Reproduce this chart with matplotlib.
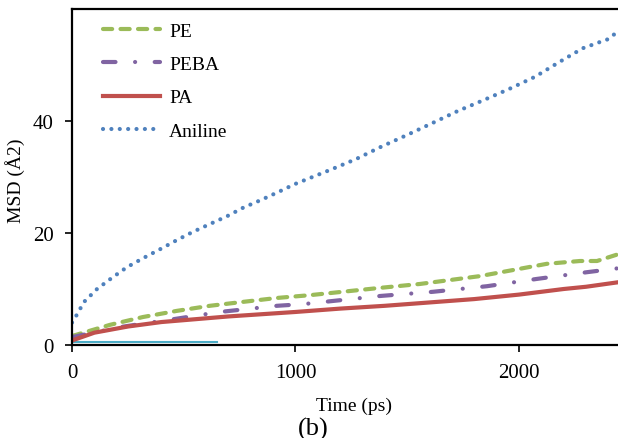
import matplotlib
matplotlib.use('Agg')
import matplotlib.pyplot as plt

plt.rcParams['font.family'] = ['Liberation Serif', 'DejaVu Serif']

# Time (ps) and MSD (A^2)
t_aniline = [0, 13, 54, 112, 179, 246, 318, 394, 470, 541, 617, 694, 765, 846, 922, 998,
             1154, 1271, 1383, 1499, 1611, 1727, 1843, 1955, 2072, 2179, 2286, 2362, 2398, 2443]
msd_aniline = [4.0, 4.8, 7.7, 10.0, 12.0, 13.9, 15.5, 17.1, 18.75, 20.2, 21.6, 23.0, 24.5, 25.9, 27.3, 28.75,
               31.25, 33.2, 35.4, 37.5, 39.6, 41.8, 43.75, 45.7, 47.9, 50.5, 53.0, 54.1, 54.6, 56.0]

t_pe = [0, 170, 318, 470, 617, 765, 917, 1065, 1378, 1557, 1825, 2125, 2273, 2349, 2443]
msd_pe = [1.6, 3.6, 5.0, 6.1, 7.0, 7.7, 8.4, 8.9, 10.2, 10.9, 12.3, 14.5, 15.0, 15.0, 16.2]

t_peba = [0, 215, 452, 662, 917, 1034, 1378, 1615, 1857, 2080, 2304, 2443]
msd_peba = [1.4, 3.2, 4.6, 5.9, 7.0, 7.3, 8.75, 9.5, 10.5, 11.8, 13.0, 13.7]

t_pa = [0, 100, 250, 400, 550, 700, 850, 1000, 1200, 1400, 1600, 1800, 2000, 2200, 2300, 2443]
msd_pa = [0.8, 2.2, 3.3, 4.1, 4.6, 5.1, 5.5, 5.9, 6.5, 7.0, 7.6, 8.2, 9.0, 10.0, 10.4, 11.2]

t_other = [0, 650]
msd_other = [0.45, 0.45]

fig = plt.figure(figsize=(6.18, 4.39), dpi=100)
ax = fig.add_axes([72 / 618, 1 - 346 / 439, 546 / 618, 336 / 439])

ax.plot(t_other, msd_other, color='#4BACC6', lw=1.5, zorder=1)
ax.plot(t_pe, msd_pe, color='#9BBB59', lw=3, ls=(0, (2.2, 2.0)),
        dash_capstyle='round', label='PE')
ax.plot(t_peba, msd_peba, color='#8064A2', lw=3, ls=(0, (3.0, 4.7, 0.01, 4.7)),
        dash_capstyle='round', label='PEBA')
ax.plot(t_pa, msd_pa, color='#C0504D', lw=3, label='PA')
ax.plot(t_aniline, msd_aniline, color='#4F81BD', lw=3, ls=(0, (0.01, 2.0)),
        dash_capstyle='round', label='Aniline')

ax.set_xlim(0, 2443)
ax.set_ylim(0, 60)
ax.set_xticks([0, 1000, 2000])
ax.set_yticks([0, 20, 40])
ax.tick_params(direction='out', length=5, width=1.2, labelsize=15, pad=8)

for s in ['left', 'bottom', 'top']:
    ax.spines[s].set_linewidth(1.6)
ax.spines['right'].set_visible(False)

ax.set_xlabel('Time (ps)', fontsize=14)
ax.xaxis.set_label_coords(0.516, -0.155)
ax.set_ylabel('MSD (Å2)', fontsize=14)
ax.yaxis.set_label_coords(-0.086, 0.491)

ax.legend(loc='upper left', frameon=False, fontsize=14, handlelength=2.9,
          handletextpad=0.5, labelspacing=0.8, bbox_to_anchor=(0.025, 1.012))

fig.text(313 / 618, 1 - 429 / 439, '(b)', fontsize=19, ha='center', va='center')

fig.savefig('out.png', dpi=100)
